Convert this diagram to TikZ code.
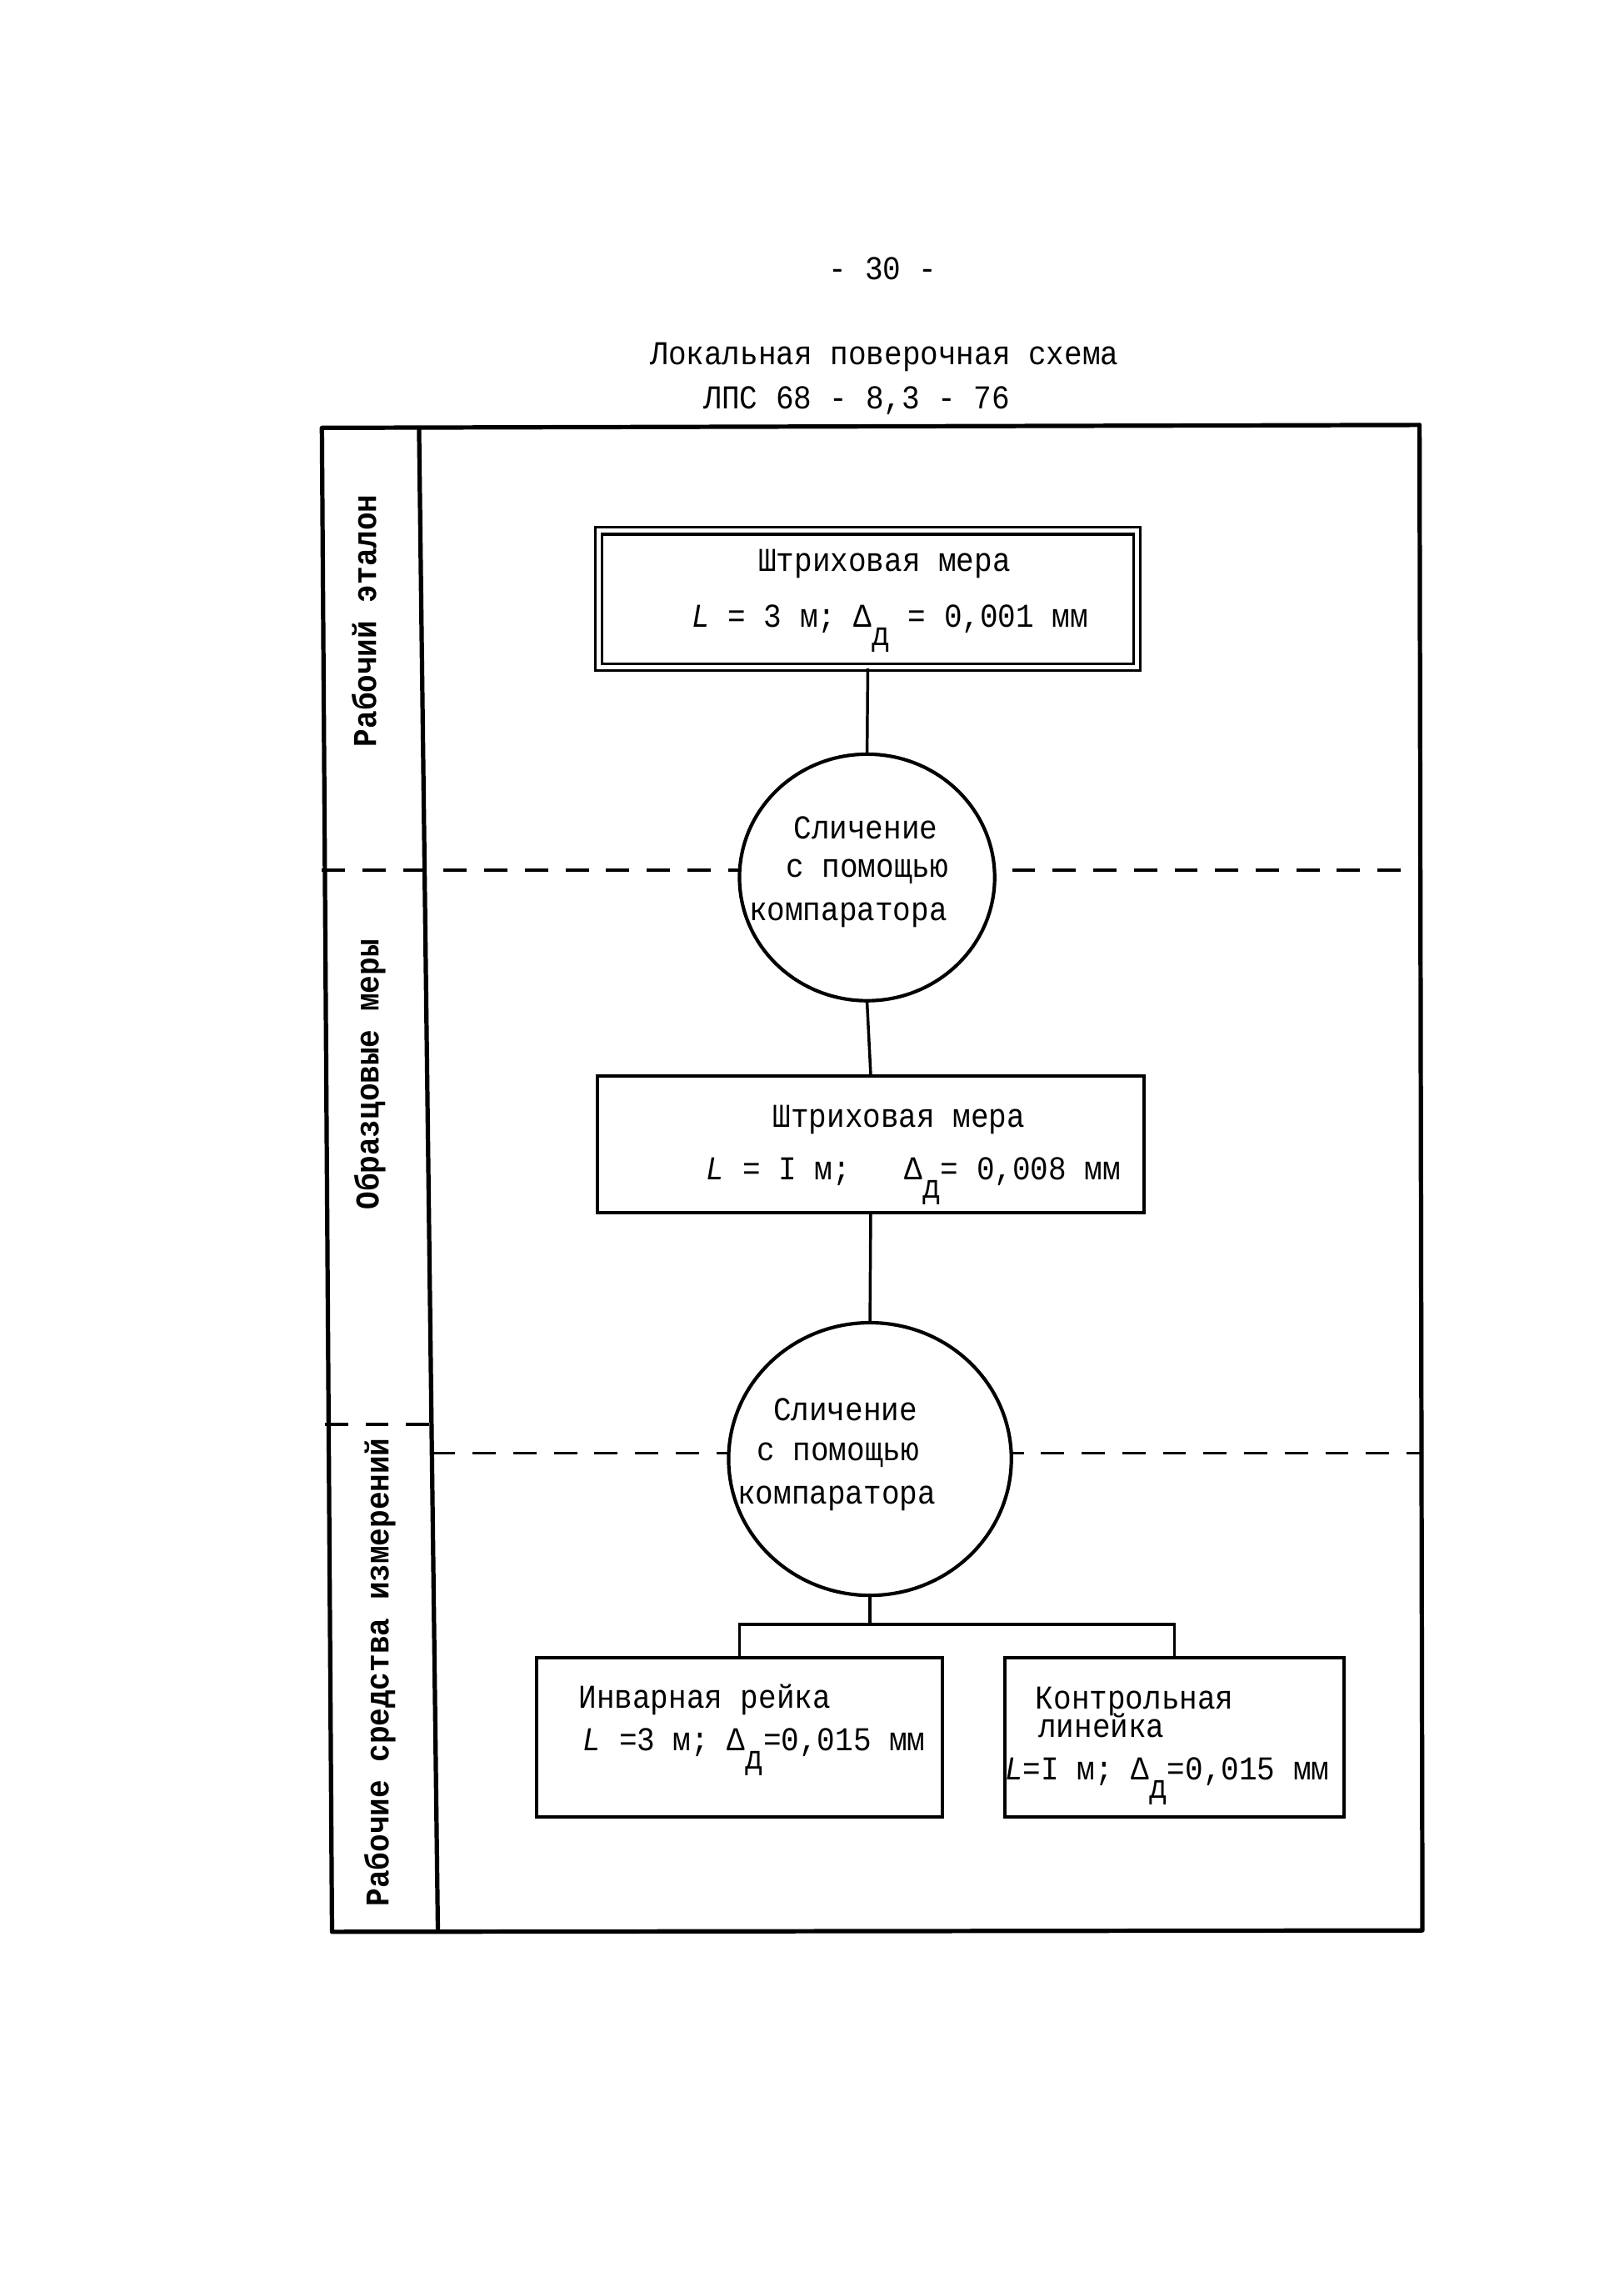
\documentclass[tikz,border=0pt]{standalone}
\usepackage{fontspec}
\newfontfamily\tw[FakeStretch=0.9]{Liberation Mono}
\usetikzlibrary{shapes.geometric}
\newcommand{\dsub}{\raisebox{-0.55em}{д}}
\tikzset{
  txt/.style={font=\tw\fontsize{23}{24}\selectfont, inner sep=0pt},
  sidetxt/.style={font=\tw\bfseries\fontsize{23}{24}\selectfont, inner sep=0pt, rotate=90},
  framest/.style={line width=3pt, line join=round},
  sepline/.style={dash pattern=on 16pt off 12pt, line width=2pt},
  boxst/.style={draw, line width=2.4pt, inner sep=0pt},
  ellst/.style={ellipse, draw, fill=white, line width=2.4pt, inner sep=0pt},
  conn/.style={line width=2pt}
}
\begin{document}
\begin{tikzpicture}[x=1pt,y=-1pt]
\useasboundingbox[fill=white] (0,0) rectangle (1119.5,1570);

% separators
\draw[sepline] (222,600) -- (980,600);
\draw[sepline] (224,982) -- (297,982);
\draw[sepline] (298,1002) -- (980,1002);

% frame
\coordinate (TL) at (222,295);
\coordinate (TR) at (979,293);
\coordinate (BR) at (981,1331);
\coordinate (BL) at (229,1332);
\coordinate (CT) at (289,295);
\coordinate (CB) at (302,1332);
\draw[framest] (TL) -- (TR) -- (BR) -- (BL) -- cycle;
\draw[framest] (CT) -- (CB);

% header
\node[txt] (pn) at (609,185) {- 30 -};
\node[txt] (t1) at (610,246) {Локальная поверочная схема};
\node[txt] (t2) at (591,276) {ЛПС 68 - 8,3 - 76};

% side labels
\node[sidetxt] (s1) at (251,428) {Рабочий эталон};
\node[sidetxt] (s2) at (255,741) {Образцовые меры};
\node[sidetxt] (s3) at (262,1153) {Рабочие средства измерений};

% boxes and ellipses
\node[boxst, double, double distance=3pt, line width=1.8pt, minimum width=371pt, minimum height=94pt] (b1) at (598.5,413) {};
\node[ellst, minimum width=176pt, minimum height=170pt] (e1) at (598,605) {};
\node[boxst, minimum width=377pt, minimum height=94pt] (b2) at (600.5,789) {};
\node[ellst, minimum width=195pt, minimum height=188pt] (e2) at (600,1006) {};
\node[boxst, minimum width=280pt, minimum height=110pt] (b3) at (510,1198) {};
\node[boxst, minimum width=234pt, minimum height=110pt] (b4) at (810,1198) {};
\coordinate (j) at (600,1120);

% connectors
\draw[conn] (b1.south) -- (e1.north);
\draw[conn] (e1.south) -- (b2.north);
\draw[conn] (b2.south) -- (e2.north);
\draw[conn] (e2.south) -- (j);
\draw[conn] (b3.north) |- (j) -| (b4.north);

% texts
\node[txt] (b1a) at (610,389) {Штриховая мера};
\node[txt, anchor=mid west] (b1b) at (477,430) {{\itshape L} = 3 м; Δ\dsub{} = 0,001 мм};

\node[txt] (e1a) at (597,571) {Сличение};
\node[txt] (e1b) at (598,601) {с помощью};
\node[txt] (e1c) at (585,631) {компаратора};

\node[txt] (b2a) at (620,772) {Штриховая мера};
\node[txt, anchor=mid west] (b2b) at (487,811) {{\itshape L} = I м;~~~Δ\dsub{}= 0,008 мм};

\node[txt] (e2a) at (583,972) {Сличение};
\node[txt] (e2b) at (578,1003) {с помощью};
\node[txt] (e2c) at (577,1033) {компаратора};

\node[txt] (b3a) at (486,1172) {Инварная рейка};
\node[txt, anchor=mid west] (b3b) at (402,1205) {{\itshape L} =3 м; Δ\dsub{}=0,015 мм};

\node[txt, anchor=mid west] (b4a) at (714,1176) {Контрольная};
\node[txt, anchor=mid west] (b4b) at (716,1196) {линейка};
\node[txt, anchor=mid west] (b4c) at (693,1225) {{\itshape L}=I м; Δ\dsub{}=0,015 мм};
\end{tikzpicture}
\end{document}
